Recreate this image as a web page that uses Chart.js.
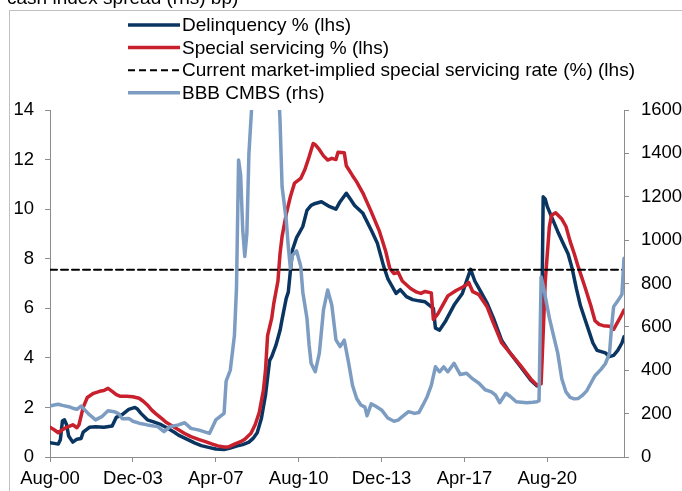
<!DOCTYPE html>
<html>
<head>
<meta charset="utf-8">
<title>CMBS delinquency, special servicing and BBB spreads</title>
<script src="https://cdn.jsdelivr.net/npm/chart.js@4/dist/chart.umd.min.js"></script>
<style>
  html, body { margin: 0; padding: 0; background: #ffffff; }
  #wrap { position: relative; width: 682px; height: 491px; overflow: hidden; }
  canvas { display: block; }
</style>
</head>
<body>
<div id="wrap"><canvas id="chart" width="682" height="491"></canvas></div>
<script>
// Months are counted from Aug-2000 (0 = Aug-00, 40 = Dec-03, ...).
const tickLabels = ['Aug-00', 'Dec-03', 'Apr-07', 'Aug-10', 'Dec-13', 'Apr-17', 'Aug-20'];
const lastMonth = 277;

// Delinquency rate, % (left axis)
const delinqMonth = [0, 2, 4, 5, 6, 7, 8, 9, 11, 13, 15, 16, 19, 22, 26, 30, 32, 35, 38, 41, 42, 44, 47, 50, 53, 57, 60, 62, 65, 67, 70, 73, 77, 80, 84, 87, 90, 93, 96, 98, 100, 102, 104, 106, 107, 109, 111, 112, 114, 115, 117, 119, 122, 124, 126, 128, 131, 133, 135, 138, 140, 143, 145, 147, 151, 155, 158, 161, 163, 165, 167, 169, 172, 175, 178, 181, 183, 185, 186, 188, 191, 195, 199, 201, 203, 205, 207, 211, 214, 218, 222, 227, 232, 235, 236, 237, 238, 239, 240, 242, 245, 248, 250, 252, 254, 256, 258, 260, 262, 264, 266, 268, 270, 272, 274, 276, 277];
const delinqPct = [0.58, 0.55, 0.52, 0.7, 1.45, 1.5, 1.3, 0.85, 0.6, 0.72, 0.75, 1.0, 1.2, 1.22, 1.2, 1.25, 1.6, 1.72, 1.92, 2.0, 1.95, 1.75, 1.5, 1.42, 1.33, 1.15, 1.0, 0.88, 0.76, 0.68, 0.56, 0.46, 0.38, 0.32, 0.3, 0.36, 0.44, 0.5, 0.6, 0.75, 0.98, 1.55, 2.5, 3.9, 4.05, 4.5, 5.1, 5.55, 6.4, 6.65, 8.35, 8.85, 9.3, 9.95, 10.15, 10.23, 10.3, 10.2, 10.1, 10.0, 10.3, 10.64, 10.4, 10.15, 9.83, 9.16, 8.62, 7.7, 7.2, 6.9, 6.6, 6.75, 6.47, 6.35, 6.3, 6.26, 6.13, 6.0, 5.2, 5.12, 5.5, 6.13, 6.6, 7.1, 7.57, 7.1, 6.8, 6.2, 5.6, 4.7, 4.2, 3.65, 3.1, 2.87, 2.9, 3.1, 10.5, 10.4, 10.1, 9.7, 9.1, 8.55, 8.2, 7.6, 6.8, 6.1, 5.6, 5.1, 4.6, 4.3, 4.25, 4.2, 4.05, 4.1, 4.3, 4.6, 4.85];

// Special servicing rate, % (left axis)
const specialMonth = [0, 2, 4, 6, 8, 11, 13, 14, 16, 18, 21, 24, 26, 28, 30, 32, 34, 37, 40, 43, 45, 47, 49, 51, 54, 56, 59, 62, 65, 68, 72, 75, 78, 81, 84, 86, 89, 92, 94, 97, 99, 101, 103, 104, 105, 107, 108, 110, 111, 112, 114, 116, 118, 121, 123, 125, 127, 128, 130, 132, 134, 136, 138, 139, 142, 143, 146, 148, 151, 155, 159, 162, 164, 166, 168, 170, 172, 174, 177, 179, 181, 184, 185, 187, 189, 192, 196, 199, 201, 202, 204, 207, 211, 214, 218, 222, 227, 232, 235, 237, 238, 239, 241, 242, 244, 247, 249, 251, 253, 255, 258, 261, 263, 265, 267, 270, 272, 273, 275, 277];
const specialPct = [1.2, 1.1, 0.98, 1.1, 1.2, 1.3, 1.18, 1.3, 2.0, 2.4, 2.57, 2.65, 2.68, 2.77, 2.65, 2.52, 2.45, 2.45, 2.43, 2.37, 2.25, 2.1, 1.9, 1.75, 1.55, 1.4, 1.25, 1.1, 0.95, 0.82, 0.7, 0.62, 0.53, 0.45, 0.4, 0.4, 0.52, 0.62, 0.72, 0.96, 1.3, 1.8, 2.7, 3.5, 4.9, 5.6, 6.2, 7.1, 8.2, 8.9, 9.8, 10.5, 11.05, 11.24, 11.6, 12.1, 12.65, 12.6, 12.4, 12.15, 11.98, 12.05, 12.0, 12.3, 12.28, 11.75, 11.35, 11.1, 10.65, 9.9, 9.1, 8.3, 7.6, 7.4, 7.45, 7.1, 6.95, 6.8, 6.65, 6.6, 6.68, 6.62, 5.55, 5.75, 6.05, 6.5, 6.72, 6.85, 6.95, 7.05, 6.67, 6.55, 6.05, 5.4, 4.6, 4.2, 3.7, 3.15, 2.9, 2.95, 5.0, 7.1, 9.3, 9.75, 9.85, 9.6, 9.3, 8.7, 8.2, 7.65, 6.9, 6.1, 5.5, 5.35, 5.3, 5.28, 5.15, 5.3, 5.6, 5.93];

// Current market-implied special servicing rate, % (left axis)
const impliedRate = 7.55;

// BBB CMBS cash index spread, bp (right axis)
const bbbMonth = [0, 2, 4, 6, 9, 11, 13, 15, 17, 19, 22, 25, 28, 31, 33, 35, 38, 40, 43, 47, 52, 55, 58, 62, 65, 68, 72, 75, 77, 79, 80, 82, 84, 85, 87, 89, 90, 91, 92, 93, 94, 95, 96, 97, 98, 100, 102, 104, 106, 108, 110, 111, 112, 114, 115, 116, 117, 119, 121, 122, 124, 125, 126, 128, 130, 132, 134, 136, 138, 140, 142, 144, 146, 148, 150, 152, 153, 155, 157, 160, 163, 166, 168, 170, 173, 176, 178, 180, 182, 184, 186, 188, 190, 192, 195, 198, 201, 204, 207, 210, 213, 215, 217, 220, 222, 225, 230, 233, 235, 236, 237, 238, 241, 243, 245, 247, 249, 251, 253, 255, 257, 259, 261, 263, 266, 268, 270, 271, 272, 274, 276, 277];
const bbbSpread = [235, 240, 243, 238, 232, 225, 220, 235, 215, 195, 171, 186, 213, 209, 200, 176, 178, 165, 156, 148, 140, 117, 140, 148, 158, 132, 124, 115, 109, 150, 171, 186, 201, 350, 400, 560, 780, 1370, 1300, 1050, 925, 1030, 1400, 1560, 1720, 2100, 2600, 2800, 2700, 2300, 1750, 1554, 1246, 1093, 970, 870, 930, 950, 880, 760, 640, 520, 432, 393, 480, 680, 770, 700, 540, 509, 539, 440, 330, 270, 240, 230, 190, 245, 235, 217, 180, 165, 170, 186, 209, 201, 205, 240, 278, 330, 416, 393, 416, 393, 432, 380, 386, 360, 340, 310, 300, 285, 250, 294, 280, 255, 250, 252, 255, 260, 830, 790, 640, 560, 480, 360, 300, 275, 268, 270, 285, 305, 340, 375, 405, 430, 478, 600, 693, 720, 750, 916];

const NAVY = '#0b3561';
const RED = '#c8202c';
const STEEL = '#7d9cc2';
const AXIS = '#8c8c8c';
const FONT = '"Liberation Sans", Arial, sans-serif';

const pairs = (xs, ys) => xs.map((m, i) => ({ x: m, y: ys[i] }));

// Frame, top caption line and the stacked legend are painted on the canvas.
const decorations = {
  id: 'decorations',
  beforeDraw(chart) {
    const ctx = chart.ctx;
    ctx.save();
    ctx.strokeStyle = '#c0c0c0';
    ctx.lineWidth = 1;
    ctx.strokeRect(9.5, 10.5, 720, 520);
    ctx.fillStyle = '#000';
    ctx.font = '19px ' + FONT;
    ctx.textBaseline = 'alphabetic';
    ctx.textAlign = 'left';
    ctx.fillText('cash index spread (rhs) bp)', 7, 4);
    ctx.restore();
  },
  afterDraw(chart) {
    const ctx = chart.ctx;
    const rows = [
      { text: 'Delinquency % (lhs)', color: NAVY, dash: [], width: 3.5 },
      { text: 'Special servicing % (lhs)', color: RED, dash: [], width: 3.5 },
      { text: 'Current market-implied special servicing rate (%) (lhs)', color: '#000', dash: [7, 4], width: 2 },
      { text: 'BBB CMBS (rhs)', color: STEEL, dash: [], width: 3.5 }
    ];
    ctx.save();
    ctx.font = '19px ' + FONT;
    ctx.textBaseline = 'middle';
    ctx.textAlign = 'left';
    rows.forEach((r, i) => {
      const y = 25 + i * 22.6;
      ctx.beginPath();
      ctx.setLineDash(r.dash);
      ctx.strokeStyle = r.color;
      ctx.lineWidth = r.width;
      ctx.moveTo(128, y);
      ctx.lineTo(180, y);
      ctx.stroke();
      ctx.setLineDash([]);
      ctx.fillStyle = '#000';
      ctx.fillText(r.text, 182, y + 1);
    });
    ctx.restore();
  }
};

new Chart(document.getElementById('chart'), {
  type: 'line',
  data: {
    datasets: [
      {
        label: 'Delinquency % (lhs)',
        data: pairs(delinqMonth, delinqPct),
        yAxisID: 'y',
        borderColor: NAVY,
        borderWidth: 3.5,
        order: 4
      },
      {
        label: 'Special servicing % (lhs)',
        data: pairs(specialMonth, specialPct),
        yAxisID: 'y',
        borderColor: RED,
        borderWidth: 3.5,
        order: 3
      },
      {
        label: 'Current market-implied special servicing rate (%) (lhs)',
        data: [{ x: 0, y: impliedRate }, { x: lastMonth, y: impliedRate }],
        yAxisID: 'y',
        borderColor: '#000',
        borderWidth: 2,
        borderDash: [7, 4],
        order: 2
      },
      {
        label: 'BBB CMBS (rhs)',
        data: pairs(bbbMonth, bbbSpread),
        yAxisID: 'y1',
        borderColor: STEEL,
        borderWidth: 3.5,
        clip: 0,
        order: 1
      }
    ]
  },
  options: {
    responsive: false,
    animation: false,
    devicePixelRatio: 1,
    layout: { padding: { top: 110, left: 0, right: 0, bottom: 0 } },
    elements: {
      point: { radius: 0, hoverRadius: 0 },
      line: { tension: 0, fill: false, borderJoinStyle: 'round', borderCapStyle: 'round' }
    },
    plugins: { legend: { display: false }, tooltip: { enabled: false } },
    scales: {
      x: {
        type: 'linear',
        min: 0,
        max: lastMonth,
        afterFit: (s) => { s.height = 34; },
        border: { display: true, color: AXIS, width: 1 },
        grid: { drawOnChartArea: false, drawTicks: true, tickLength: 5, color: AXIS },
        ticks: {
          stepSize: 40,
          includeBounds: false,
          autoSkip: false,
          maxRotation: 0,
          padding: 6,
          color: '#000',
          font: { family: FONT, size: 18.5 },
          callback: (v) => tickLabels[v / 40] ?? ''
        }
      },
      y: {
        position: 'left',
        min: 0,
        max: 14,
        afterFit: (s) => { s.width = 50; },
        border: { display: true, color: AXIS, width: 1 },
        grid: { drawOnChartArea: false, drawTicks: true, tickLength: 5, color: AXIS },
        ticks: { stepSize: 2, padding: 11, color: '#000', font: { family: FONT, size: 18.5 }, callback: (v) => String(v) }
      },
      y1: {
        position: 'right',
        min: 0,
        max: 1600,
        afterFit: (s) => { s.width = 58; },
        border: { display: true, color: AXIS, width: 1 },
        grid: { drawOnChartArea: false, drawTicks: true, tickLength: 5, color: AXIS },
        ticks: { stepSize: 200, padding: 12, color: '#000', font: { family: FONT, size: 18.5 }, callback: (v) => String(v) }
      }
    }
  },
  plugins: [decorations]
});
</script>
</body>
</html>
